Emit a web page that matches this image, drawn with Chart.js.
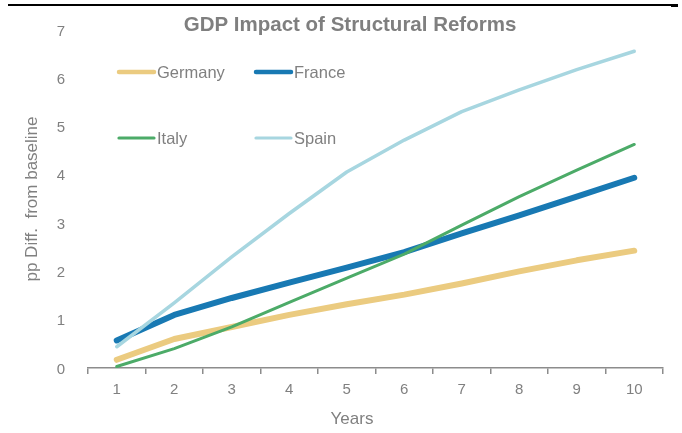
<!DOCTYPE html>
<html>
<head>
<meta charset="utf-8">
<script src="https://cdn.jsdelivr.net/npm/chart.js@4.4.1/dist/chart.umd.min.js"></script>
<style>
  body { margin: 0; background: #fff; }
  #wrap { position: relative; width: 682px; height: 433px; }
  #topRule { position: absolute; left: 8px; top: 4px; width: 670px; height: 1.5px; background: #000; }
  #topTab { position: absolute; left: 671px; top: 4px; width: 7px; height: 3px; background: #000; }
</style>
</head>
<body>
<div id="wrap">
  <canvas id="myChart" width="682" height="433"></canvas>
  <div id="topRule"></div>
  <div id="topTab"></div>
</div>
<script>
let ctx = document.getElementById('myChart')

// data
let years = ['1', '2', '3', '4', '5', '6', '7', '8', '9', '10']
let germany = [0.17, 0.6, 0.85, 1.1, 1.32, 1.52, 1.75, 2.0, 2.23, 2.43]
let france = [0.57, 1.1, 1.45, 1.77, 2.08, 2.4, 2.79, 3.16, 3.55, 3.94]
let italy = [0.03, 0.4, 0.85, 1.36, 1.86, 2.36, 2.96, 3.55, 4.1, 4.63]
let spain = [0.44, 1.35, 2.3, 3.2, 4.06, 4.72, 5.31, 5.76, 6.18, 6.56]
let yTicks = [0, 1, 2, 3, 4, 5, 6, 7]

let grey = '#808080'
let fontFamily = "'Liberation Sans', Arial, sans-serif"

// title, legend and x title sit off the usual spots, so draw them by hand
let overlay = {
    id: 'overlay',
    afterDraw(chart) {
        let c = chart.ctx
        c.save()
        c.fillStyle = '#7f7f7f'
        c.font = 'bold 20.5px ' + fontFamily
        c.textAlign = 'center'
        c.textBaseline = 'middle'
        c.fillText('GDP Impact of Structural Reforms', 350, 25)

        c.fillStyle = grey
        c.font = '17px ' + fontFamily
        c.fillText('Years', 352, 419)

        let spots = [[118, 72], [255, 72], [118, 138], [255, 138]]
        c.font = '16.5px ' + fontFamily
        c.textAlign = 'left'
        chart.data.datasets.forEach((ds, i) => {
            let [x, y] = spots[i]
            c.strokeStyle = ds.borderColor
            c.lineWidth = ds.legendWidth
            c.lineCap = 'round'
            c.beginPath()
            c.moveTo(x + 1, y)
            c.lineTo(x + 36, y)
            c.stroke()
            c.fillStyle = grey
            c.fillText(ds.label, x + 39, y + 1)
        })
        c.restore()
    }
}

new Chart(ctx, {
    type: 'line',
    data: {
        labels: years,
        datasets: [
            { label: 'Germany', data: germany, borderColor: '#ebcb80', borderWidth: 6, legendWidth: 4.5, order: 3 },
            { label: 'France', data: france, borderColor: '#1879b3', borderWidth: 6, legendWidth: 4.5, order: 2 },
            { label: 'Italy', data: italy, borderColor: '#4cab68', borderWidth: 3, legendWidth: 3.2, order: 1 },
            { label: 'Spain', data: spain, borderColor: '#a7d6e0', borderWidth: 3.5, legendWidth: 3.2, order: 0 }
        ]
    },
    options: {
        responsive: false,
        animation: false,
        layout: { padding: { top: 30, right: 19, left: 0, bottom: 0 } },
        elements: {
            point: { radius: 0 },
            line: { tension: 0, borderCapStyle: 'round', borderJoinStyle: 'round' }
        },
        plugins: {
            legend: { display: false },
            tooltip: { enabled: false }
        },
        scales: {
            x: {
                offset: true,
                grid: { offset: true, drawOnChartArea: false, drawTicks: true, tickLength: 6, color: '#8c8c8c', lineWidth: 1.5 },
                border: { display: true, color: '#8c8c8c', width: 1.5 },
                ticks: { color: grey, font: { size: 15, family: fontFamily }, padding: 7, maxRotation: 0 },
                afterFit(scale) { scale.height = 65 }
            },
            y: {
                min: 0,
                max: 7,
                afterBuildTicks(scale) { scale.ticks = yTicks.map(v => ({ value: v })) },
                grid: { display: false },
                border: { display: false },
                ticks: { color: grey, font: { size: 15, family: fontFamily }, padding: 15, labelOffset: 1.5 },
                title: { display: true, text: 'pp Diff.  from baseline', color: grey, font: { size: 17, family: fontFamily }, padding: { top: 22, bottom: 0 } },
                afterFit(scale) { scale.width = 88 }
            }
        }
    },
    plugins: [overlay]
});
</script>
</body>
</html>
